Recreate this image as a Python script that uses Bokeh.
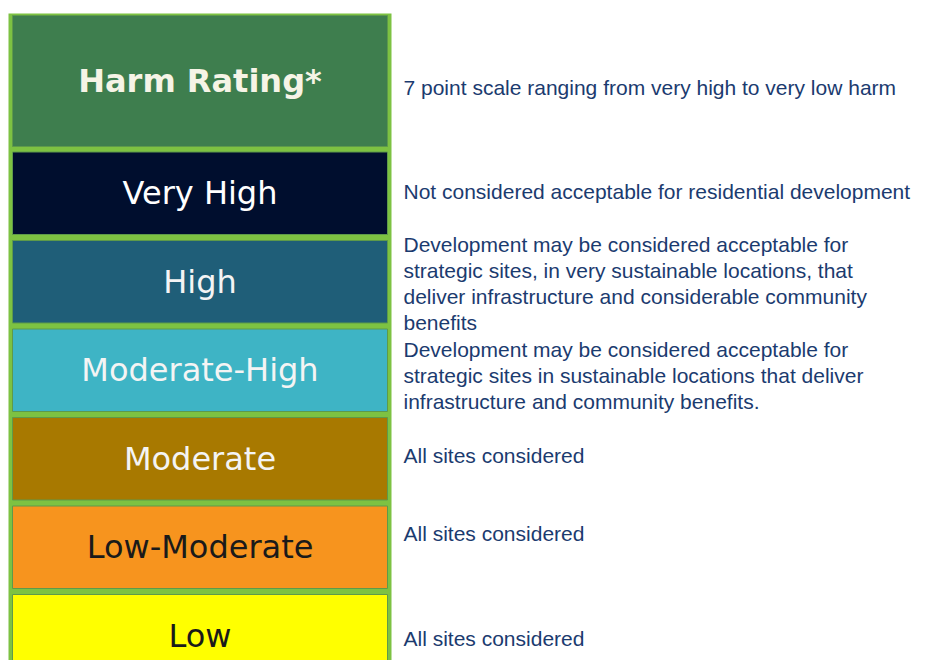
from bokeh.plotting import figure
from bokeh.models import Range1d, ColumnDataSource
from bokeh.embed import file_html
from bokeh.resources import INLINE
from bokeh.core.properties import value

# ---- data ----
header = "Harm Rating*"
header_note = "7 point scale ranging from very high to very low harm"
ratings = ["Very High", "High", "Moderate-High", "Moderate", "Low-Moderate", "Low"]
descriptions = [
    "Not considered acceptable for residential development",
    "Development may be considered acceptable for\nstrategic sites, in very sustainable locations, that\ndeliver infrastructure and considerable community\nbenefits",
    "Development may be considered acceptable for\nstrategic sites in sustainable locations that deliver\ninfrastructure and community benefits.",
    "All sites considered",
    "All sites considered",
    "All sites considered",
]
fill_colors = ["#000E2E", "#1F5E78", "#3EB4C5", "#A87900", "#F7941E", "#FFFF00"]
label_colors = ["#FFFFFF", "#F4F4F4", "#F4F4F4", "#F4F4F4", "#1A1A1A", "#1A1A1A"]

# ---- layout constants (screen pixels) ----
BORDER = "#7DC242"
HEADER_FILL = "#3E7E4E"
BOX_L, BOX_R = 12, 387
ROW_TOP0, ROW_PITCH, ROW_H = 151.5, 88.5, 82.5
HEAD_TOP, HEAD_BOT = 15, 146
TEXT_X = 403
DESC_BASE = [199, 252, 357, 463, 541, 646]
LINE_PITCH = 26
NOTE_BASE = 95
DESC_COLOR = "#1B3B6F"
LABEL_PX, DESC_PX = 32, 21
BASE_FIX = 0.39  # empirical baseline correction (fraction of font size)

p = figure(width=923, height=660, x_range=Range1d(0, 923), y_range=Range1d(660, 0),
           output_backend="svg", toolbar_location=None, min_border=0,
           x_axis_type=None, y_axis_type=None)
p.grid.visible = False
p.outline_line_color = None
p.background_fill_color = "white"
p.border_fill_color = "white"

# outer green frame
p.quad(left=[8], right=[391], top=[13], bottom=[700], fill_color=BORDER, line_color=None)

# header box
p.quad(left=[BOX_L], right=[BOX_R], top=[HEAD_TOP], bottom=[HEAD_BOT],
       fill_color=HEADER_FILL, line_color="#5E9A4A", line_width=1)
p.text(x=[(BOX_L + BOX_R) / 2], y=[(HEAD_TOP + HEAD_BOT) / 2 + 12 - BASE_FIX * LABEL_PX],
       text=[header],
       text_font=value("DejaVu Sans"), text_font_style="bold", text_font_size=f"{LABEL_PX}px",
       text_color="#F6F4E6", text_align="center", text_baseline="alphabetic")

# rating boxes
n = len(ratings)
tops = [ROW_TOP0 + i * ROW_PITCH for i in range(n)]
bots = [t + ROW_H for t in tops]
src = ColumnDataSource(dict(
    left=[BOX_L] * n, right=[BOX_R] * n, top=tops, bottom=bots,
    fill=fill_colors, label=ratings, lc=label_colors,
    cx=[(BOX_L + BOX_R) / 2] * n,
    ly=[(t + b) / 2 + 12.5 - BASE_FIX * LABEL_PX for t, b in zip(tops, bots)],
))
p.quad(left="left", right="right", top="top", bottom="bottom", fill_color="fill",
       line_color="#5E9A4A", line_width=1, source=src)
p.text(x="cx", y="ly", text="label", text_color="lc", source=src,
       text_font=value("DejaVu Sans"), text_font_size=f"{LABEL_PX}px",
       text_align="center", text_baseline="alphabetic")

# right-hand descriptions
xs, ys, ts = [TEXT_X], [NOTE_BASE - BASE_FIX * DESC_PX], [header_note]
for base, desc in zip(DESC_BASE, descriptions):
    for j, line in enumerate(desc.split("\n")):
        xs.append(TEXT_X)
        ys.append(base + j * LINE_PITCH - BASE_FIX * DESC_PX)
        ts.append(line)
p.text(x=xs, y=ys, text=ts, text_font=value("Liberation Sans"), text_font_size=f"{DESC_PX}px",
       text_color=DESC_COLOR, text_align="left", text_baseline="alphabetic")

open("out.html", "w").write(file_html(p, INLINE))
